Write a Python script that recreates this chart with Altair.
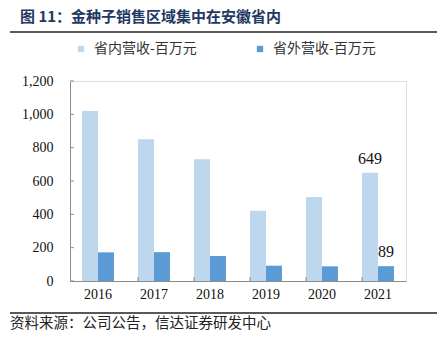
import altair as alt
import pandas as pd

years = ["2016", "2017", "2018", "2019", "2020", "2021"]
inner = [1020, 850, 730, 422, 504, 649]
outer = [172, 173, 150, 92, 88, 89]
series = ["省内营收-百万元", "省外营收-百万元"]
colors = ["#BDD7EE", "#5B9BD5"]
y_ticks = [0, 200, 400, 600, 800, 1000, 1200]
title_text = "图 11：金种子销售区域集中在安徽省内"
footer_text = "资料来源：公司公告，信达证券研发中心"

rows = []
for i, y in enumerate(years):
    rows.append({"year": y, "series": series[0], "value": inner[i]})
    rows.append({"year": y, "series": series[1], "value": outer[i]})
df = pd.DataFrame(rows)

serif = "Liberation Serif"
cjk = "Noto Sans CJK SC"

xscale = alt.Scale(domain=years, paddingInner=0.43, paddingOuter=0.215)
yscale = alt.Scale(domain=[0, 1200])
xaxis = alt.Axis(title=None, ticks=False, labelAngle=0, labelFont=serif,
                 labelFontSize=14, labelColor="#111", labelPadding=6,
                 domainColor="#8c8c8c")
yaxis = alt.Axis(title=None, ticks=False, grid=False, values=y_ticks,
                 labelExpr="format(datum.value, ',.0f')",
                 labelFont=serif, labelFontSize=14, labelColor="#111",
                 labelPadding=17, domainColor="#8c8c8c")

bars = alt.Chart(df).mark_bar().encode(
    x=alt.X("year:N", scale=xscale, sort=years, axis=xaxis, title=None),
    xOffset=alt.XOffset("series:N", sort=series, scale=alt.Scale(paddingInner=0, paddingOuter=0)),
    y=alt.Y("value:Q", scale=yscale, axis=yaxis, title=None),
    color=alt.Color("series:N", sort=series,
                    scale=alt.Scale(domain=series, range=colors),
                    legend=alt.Legend(title=None, orient="none", legendX=4, legendY=-39,
                                      direction="horizontal", symbolType="square",
                                      symbolSize=40, symbolStrokeWidth=0,
                                      labelFont=cjk, labelFontSize=14, labelColor="#333",
                                      columnPadding=56, labelOffset=6)),
)

labels = alt.Chart(df).transform_filter(alt.datum.year == "2021").mark_text(
    font=serif, fontSize=16, color="#111", baseline="middle", dy=-14
).encode(
    x=alt.X("year:N", scale=xscale, sort=years, axis=xaxis, title=None),
    xOffset=alt.XOffset("series:N", sort=series),
    y=alt.Y("value:Q", scale=yscale, axis=yaxis, title=None),
    text=alt.Text("value:Q"),
)

ytick_df = pd.DataFrame({"value": y_ticks})
yticks = alt.Chart(ytick_df).mark_rule(color="#8c8c8c", strokeWidth=1).encode(
    y=alt.Y("value:Q", scale=yscale, axis=yaxis, title=None),
    x=alt.value(0), x2=alt.value(4),
)

xtick_df = pd.DataFrame({"year": years[1:]})
xticks = alt.Chart(xtick_df).mark_rule(color="#8c8c8c", strokeWidth=1).encode(
    x=alt.X("year:N", scale=xscale, sort=years, bandPosition=0, axis=xaxis, title=None),
    y=alt.value(200), y2=alt.value(196),
)

title_df = pd.DataFrame({"t": [title_text]})
title = alt.Chart(title_df).mark_text(
    font=cjk, fontSize=15, fontWeight="bold", color="#1F3864", align="left", baseline="middle"
).encode(x=alt.value(-50), y=alt.value(-64), text="t:N")

footer_df = pd.DataFrame({"t": [footer_text]})
footer = alt.Chart(footer_df).mark_text(
    font=cjk, fontSize=14.5, color="#222", align="left", baseline="middle"
).encode(x=alt.value(-60), y=alt.value(243), text="t:N")

rule_top = alt.Chart(title_df).mark_rule(color="#222", strokeWidth=1.5).encode(
    x=alt.value(-60), x2=alt.value(367), y=alt.value(-49))
rule_bot = alt.Chart(footer_df).mark_rule(color="#222", strokeWidth=1.5).encode(
    x=alt.value(-60), x2=alt.value(367), y=alt.value(232))

chart = alt.layer(bars, labels, yticks, xticks, title, footer, rule_top, rule_bot).properties(
    width=336, height=200,
    autosize=alt.AutoSizeParams(type="none"),
    padding={"left": 70, "top": 81, "right": 31, "bottom": 57},
).configure_view(stroke=None).configure(background="white")

chart.save("out.html", embed_options={"renderer": "svg", "actions": False})
